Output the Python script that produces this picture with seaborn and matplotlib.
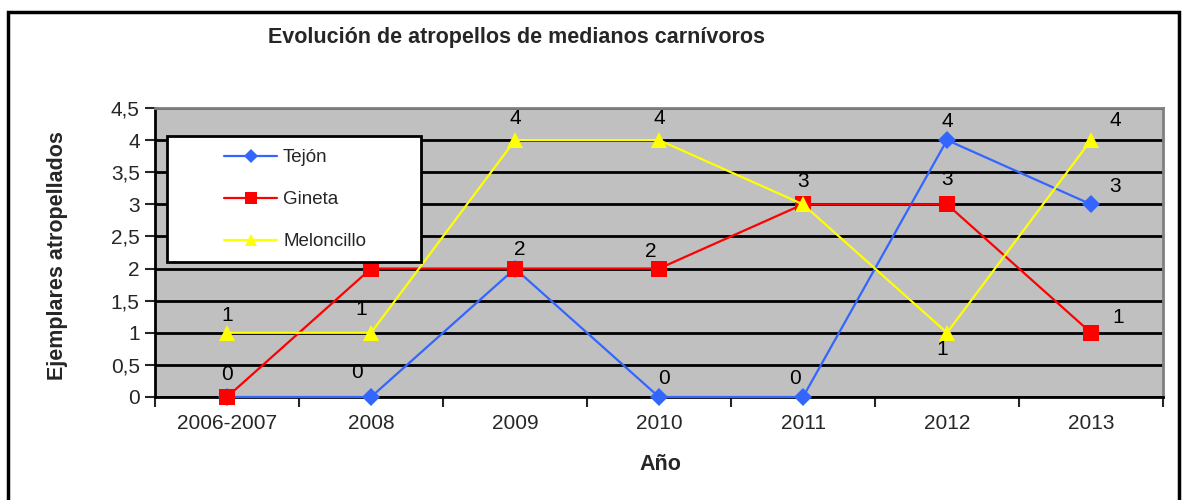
import matplotlib
matplotlib.use('Agg')
import matplotlib.pyplot as plt
import seaborn as sns
from matplotlib.patches import Rectangle

years = ['2006-2007', '2008', '2009', '2010', '2011', '2012', '2013']
tejon = [0, 0, 2, 0, 0, 4, 3]
gineta = [0, 2, 2, 2, 3, 3, 1]
meloncillo = [1, 1, 4, 4, 3, 1, 4]
yticks = [0, 0.5, 1, 1.5, 2, 2.5, 3, 3.5, 4, 4.5]
ytick_labels = ['0', '0,5', '1', '1,5', '2', '2,5', '3', '3,5', '4', '4,5']

# label offsets in pixels (dx, dy), None = label hidden behind other series
off_tejon = [None, (-14, 24), None, (5, 19), (-8, 19), (0, 19), (24, 18)]
off_gineta = [(0, 22), (0, 17), (5, 19), (-8, 17), (0, 23), (0, 25), (27, 15)]
off_mel = [(0, 17), (-10, 23), (0, 22), (0, 22), None, (-5, -17), (24, 20)]

sns.set_style('white')
plt.rcParams['font.family'] = ['Liberation Sans', 'DejaVu Sans']

W, H = 1183, 500
fig = plt.figure(figsize=(W/100, H/100), dpi=100)
ax = fig.add_axes([155/W, 1-397/H, (1163-155)/W, (397-108)/H])
ax.set_facecolor('#C0C0C0')

x = list(range(len(years)))
series = [
    ('Tejón', tejon, '#3366FF', 'D', 9, off_tejon),
    ('Gineta', gineta, '#FF0000', 's', 11, off_gineta),
    ('Meloncillo', meloncillo, '#FFFF00', '^', 12, off_mel),
]
for i, (name, vals, col, mk, ms, offs) in enumerate(series):
    sns.lineplot(x=x, y=vals, ax=ax, color=col, marker=mk, markersize=ms,
                 markeredgewidth=0, linewidth=1.6, label=name, zorder=3+i,
                 clip_on=False)
    for xi, v, o in zip(x, vals, offs):
        if o is None:
            continue
        ax.annotate(str(v), (xi, v), xytext=o, textcoords='offset pixels',
                    ha='center', va='center', fontsize=15, color='black', zorder=10)

ax.set_xlim(-0.5, 6.5)
ax.set_ylim(0, 4.5)
ax.set_yticks(yticks)
ax.set_yticklabels(ytick_labels, fontsize=15)
ax.set_xticks(x)
ax.set_xticklabels(years, fontsize=15)
ax.set_xticks([i - 0.5 for i in range(len(years) + 1)], minor=True)
ax.tick_params(axis='x', which='major', length=0, pad=12)
ax.tick_params(axis='x', which='minor', length=7, width=1.5, direction='out', bottom=True)
ax.tick_params(axis='y', length=7, width=1.5, direction='out', left=True, pad=4)
ax.grid(axis='y', color='black', linewidth=2)
ax.set_axisbelow(True)
for s in ['top', 'right']:
    ax.spines[s].set_color('#808080')
    ax.spines[s].set_linewidth(2)
for s in ['left', 'bottom']:
    ax.spines[s].set_color('black')
    ax.spines[s].set_linewidth(2)
ax.set_xlabel('')
ax.set_ylabel('')

# legend: white box drawn separately, entries placed inside it
box = Rectangle((167/W, 1-262/H), (421-167)/W, (262-136)/H,
                transform=fig.transFigure, facecolor='white',
                edgecolor='black', linewidth=2, zorder=15, clip_on=False)
ax.add_artist(box)
leg = ax.legend(loc='upper left', bbox_to_anchor=(224/W, 1-149/H),
                bbox_transform=fig.transFigure, fontsize=13.5, frameon=False,
                handlelength=2.85, labelspacing=1.33, borderpad=0,
                handletextpad=0.3, borderaxespad=0, markerscale=0.75)
leg.set_zorder(21)

fig.text(517/W, 1-38/H, 'Evolución de atropellos de medianos carnívoros',
         ha='center', va='center', fontsize=15.5, fontweight='bold')
fig.text(58/W, 1-256/H, 'Ejemplares atropellados', rotation=90,
         ha='center', va='center', fontsize=15.5, fontweight='bold')
fig.text(660/W, 1-465/H, 'Año', ha='center', va='center',
         fontsize=15.5, fontweight='bold')

fig.patches.append(Rectangle((8/W, -0.02), (1179-8)/W, 1.02-12/H,
                             transform=fig.transFigure, fill=False,
                             edgecolor='black', linewidth=2.5))

fig.savefig('out.png', dpi=100)
